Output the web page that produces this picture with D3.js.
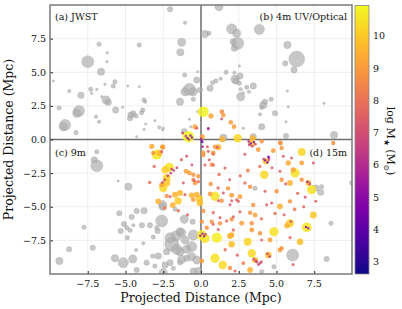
<!DOCTYPE html>
<html>
<head>
<meta charset="utf-8">
<script src="https://cdn.jsdelivr.net/npm/d3@7"></script>
<style>
  body { margin: 0; background: #fff; }
  svg text { font-family: 'DejaVu Serif', serif; fill: #111; }
</style>
</head>
<body>
<svg id="chart" width="402" height="309"></svg>
<script>
// galaxies not detected: [x Mpc, y Mpc, log M*]
const greyGalaxies = [
  [-2.05,9.68,9.4],[-1.06,8.68,8.1],[-1.28,7.23,10.3],[-1.37,6.48,10.05],[-6.75,7.08,8.9],[-4.09,7.03,8.9],
  [-6.2,6.45,6.3],[-7.5,5.78,11.0],[-6.23,5.78,6.3],[-6.62,5.04,10.05],[-9.78,4.35,5.5],[-8.72,3.6,8.1],
  [-7.95,3.29,9.75],[-7.3,3.73,8.9],[-6.9,3.73,6.3],[-7.24,3.43,6.3],[-6.56,3.18,6.3],[-6.29,2.94,10.3],
  [-6.14,2.77,9.75],[-5.7,4.3,8.9],[-5.81,3.98,8.9],[-6.36,4.1,6.3],[-4.85,3.98,5.5],[-4.09,3.93,5.5],
  [-9.4,2.34,8.9],[-8.08,2.12,10.85],[-8.23,1.95,10.3],[-9.0,1.08,10.85],[-9.12,0.95,10.3],[-8.28,0.51,8.9],
  [-6.95,1.7,8.1],[-6.75,1.32,8.1],[-5.65,2.19,9.75],[-5.19,2.39,6.3],[-4.64,1.82,9.75],[-4.48,1.95,9.4],
  [-4.7,1.58,9.4],[-4.3,1.75,8.9],[-3.86,2.19,8.9],[-3.93,1.99,8.9],[-3.77,2.94,8.9],[-3.7,2.81,8.1],
  [-3.05,1.4,6.3],[-2.76,0.9,8.1],[-2.5,0.83,6.3],[-3.77,0.76,6.3],[-3.66,1.15,6.3],[-4.26,0.21,5.5],
  [-1.08,4.8,8.9],[-0.77,3.73,11.0],[-1.06,3.55,10.3],[-0.51,3.55,10.3],[-0.28,4.42,9.75],[-0.51,2.99,8.9],
  [-1.39,2.81,10.05],[-1.1,0.58,9.75],[-0.68,0.95,6.3],[-0.77,1.5,5.5],[-0.22,2.07,5.5],[-0.22,5.04,5.5],
  [-2.54,0.71,5.5],
  [1.19,9.87,10.3],[2.03,8.22,10.7],[2.36,7.9,10.3],[0.26,7.84,10.05],[0.53,7.9,8.9],[2.43,7.15,11.0],
  [2.14,7.27,9.75],[2.21,6.78,9.75],[3.86,8.19,10.7],[5.72,7.03,10.05],[6.34,5.98,11.46],[6.16,5.17,9.75],
  [5.58,5.66,9.4],[2.54,5.46,6.3],[1.66,5.0,8.9],[2.21,4.97,8.1],[2.25,4.48,10.3],[2.58,4.72,9.75],
  [2.32,4.35,9.75],[2.54,4.18,8.9],[0.99,4.35,8.9],[0.77,4.22,8.9],[1.3,4.52,8.1],[0.6,3.81,9.75],
  [-0.07,3.68,9.4],[2.63,3.73,8.1],[3.03,3.88,8.9],[3.46,3.98,9.75],[3.18,3.55,8.1],[2.63,3.18,10.3],
  [2.8,3.48,6.3],[5.72,3.6,6.3],[4.64,2.99,8.9],[4.13,2.57,10.05],[4.24,2.81,9.4],[4.02,2.39,8.9],
  [4.9,1.95,9.4],[5.78,2.44,6.3],[3.91,1.87,8.1],[1.44,2.12,6.3],[2.8,0.83,6.3],[4.02,0.95,9.75],
  [5.63,1.32,5.5],[8.15,2.69,5.5],[1.48,0.13,10.05],[3.46,0.21,9.75],[5.63,0.26,9.4],[8.81,0.33,10.05],
  [-6.9,-0.91,8.9],[-7.07,-1.52,9.75],[-6.9,-1.95,11.0],[-5.48,-3.09,5.5],[-4.81,-3.51,10.05],[-4.26,-5.32,9.4],
  [-3.77,-5.29,9.75],[-5.41,-5.49,9.4],[-5.1,-6.28,9.4],[-4.92,-6.56,8.9],[-5.32,-6.8,9.4],[-4.88,-7.3,8.9],
  [-7.75,-6.53,8.9],[-8.74,-8.16,9.4],[-7.17,-8.04,9.4],[-9.38,-9.03,10.05],[-5.7,-8.83,10.05],[-5.15,-9.16,10.7],
  [-4.52,-8.88,10.3],[-4.3,-8.22,8.1],[-3.82,-7.72,8.1],[-4.26,-9.7,9.4],[-3.6,-9.16,9.4],[-3.2,-8.66,8.9],
  [-2.6,-6.06,11.0],[-2.54,-5.0,10.05],[-2.87,-6.8,9.4],[-3.38,-6.38,9.4],[-1.94,-7.79,11.25],[-1.39,-6.86,10.3],
  [-1.66,-7.17,10.7],[-1.06,-7.47,10.3],[-1.11,-5.93,10.3],[-0.55,-6.11,9.4],[-0.51,-7.1,10.7],[-0.62,-7.97,10.7],
  [-1.39,-8.34,10.3],[-2.27,-8.34,9.75],[-0.62,-8.71,10.3],[-0.28,-8.96,10.3],[-0.95,-8.83,9.75],[-2.38,-9.33,9.75],
  [-1.83,-9.58,8.9],[-1.39,-9.13,9.4],[-4.59,-5.76,9.4],[-4.7,-6.75,8.9],[-3.91,-6.38,9.4],[-4.48,-6.38,8.1],
  [-1.72,-5.19,8.9],[-3.16,-7.25,8.9],[-2.93,-6.56,8.9],[-1.28,-6.93,10.3],[-1.61,-8.16,10.7],[-0.95,-8.16,10.3],
  [-2.83,-8.66,9.75],[-1.28,-8.91,10.3],[-2.05,-9.16,9.75],[-3.05,-9.41,8.9],[-2.5,-9.9,10.3],[-0.18,-9.78,10.05],
  [-0.51,-9.78,9.75],[-2.05,-7.3,10.7],[-2.54,-4.85,10.3],
  [3.58,-3.63,8.9],[7.62,-3.61,9.75],[7.99,-3.51,8.9],[7.93,-3.93,9.75],[8.61,-6.23,8.9],[6.07,-8.59,11.0],
  [8.32,-8.88,9.4],[4.83,-9.46,8.9],[4.02,-9.83,8.9],[9.98,-3.23,8.9]
];

// detected galaxies: [x Mpc, y Mpc, log M*]
const detectedGalaxies = [
  [0.15,2.07,10.8],[0.66,1.75,9.3],[1.37,1.52,7.2],[1.97,1.28,9.0],[2.19,0.95,9.0],[0.48,0.83,5.5],
  [2.43,0.09,10.3],[1.41,0.01,9.6],[3.42,0.09,9.6],[1.37,2.07,8.8],[1.48,1.82,9.0],[-0.4,0.95,9.2],
  [-0.28,0.83,7.3],[-0.84,0.21,10.9],[-0.9,0.1,4.5],[-0.7,0.3,5.2],[-0.8,0.0,6.0],[-0.6,0.15,4.8],
  [-1.0,0.25,6.5],[-1.21,0.48,6.8],[0.05,-0.11,5.0],[0.1,-0.2,4.6],[0.0,0.05,5.5],[0.09,0.21,9.2],
  [0.11,-0.54,5.0],[1.08,-0.58,7.5],[0.48,0.78,7.0],[-2.54,-0.54,9.2],
  [-3.26,-0.51,9.3],[-2.54,-0.58,9.0],[-2.93,-1.13,10.6],[-2.76,-1.0,9.7],[-3.16,-1.0,8.8],[-2.6,-0.91,7.2],
  [-2.1,-2.07,10.5],[-2.38,-2.25,10.0],[-2.27,-2.86,10.2],[-2.5,-3.61,10.3],[-2.27,-3.23,9.9],
  [-2.4,-3.0,6.8],[-2.2,-2.7,6.6],[-2.0,-2.5,6.9],[-1.8,-2.3,6.5],[-1.6,-2.1,7.0],[-2.55,-3.2,7.2],[-1.95,-2.2,6.3],
  [-2.6,-3.36,9.2],[-0.99,-2.36,9.1],[-0.77,-2.49,9.1],[-0.51,-2.62,8.8],[-0.18,-2.74,8.9],[-0.51,-2.99,8.5],
  [-0.45,-3.05,7.5],[-0.4,-3.23,9.0],[-0.18,-3.14,7.9],[-1.17,-3.23,7.3],[0.64,-3.31,8.8],[0.15,-1.0,9.1],
  [0.48,-0.88,7.5],[0.81,-1.0,9.1],[1.15,-0.58,9.6],[-0.95,-1.25,7.2],[0.55,-1.5,7.5],[0.71,-1.87,8.8],
  [1.59,-2.12,7.5],[-1.72,-4.1,9.6],[-1.39,-3.98,9.6],[-1.06,-4.1,7.5],[-0.62,-4.15,9.5],[-0.28,-4.1,9.5],
  [-0.11,-4.4,10.0],[-0.51,-4.48,9.0],[-0.07,-4.72,9.8],[-2.83,-4.6,9.5],[-2.05,-4.25,7.2],[0.93,-4.22,10.5],
  [0.6,-4.05,9.0],[1.15,-4.55,7.5],[1.48,-3.98,7.2],[1.37,-4.55,8.8],[2.03,-4.15,9.1],[2.03,-4.55,7.5],
  [2.36,-4.48,7.6],[2.47,-4.6,7.4],[1.92,-4.85,7.3],[-1.87,-4.87,9.5],[-1.52,-4.57,10.0],[-2.27,-4.2,8.8],
  [3.36,-0.26,10.0],[3.3,-0.3,5.0],[3.5,-0.2,4.5],[3.2,-0.4,6.8],[3.4,-0.5,6.5],[3.6,-0.35,7.0],[3.15,-0.15,5.5],
  [3.79,-0.76,9.0],[4.02,-0.13,8.8],[4.3,-1.62,9.8],[4.25,-1.55,5.0],[4.4,-1.7,4.8],[4.15,-1.45,6.5],[4.5,-1.5,6.8],
  [4.19,-2.62,10.3],[4.79,-0.83,9.1],[5.28,-0.26,8.8],[5.34,-0.63,8.8],[5.45,-1.25,7.5],[5.78,-1.75,9.4],
  [6.0,-1.38,7.5],[6.67,-0.93,10.2],[6.67,-1.75,9.1],[6.23,-2.49,10.5],[6.11,-2.25,9.2],[7.44,-1.75,7.2],
  [5.23,-2.36,7.5],[5.34,-2.99,8.8],[5.89,-3.23,9.5],[6.67,-2.99,8.8],[7.11,-3.23,9.5],[7.05,-3.15,5.0],
  [7.2,-3.3,6.5],[7.33,-3.73,10.5],[4.24,-3.85,7.5],[5.01,-3.85,8.8],[5.89,-4.6,8.8],[5.23,-4.97,9.5],
  [4.35,-4.85,7.5],[4.68,-4.72,7.6],[8.76,-0.26,8.8],[4.46,-1.28,5.0],[4.5,-1.35,4.5],[5.23,-0.24,8.8],
  [0.93,-0.54,9.0],[0.81,-1.08,7.9],[0.15,-1.15,8.8],[0.42,-0.54,7.5],
  [5.89,-6.23,10.2],[5.7,-6.4,9.5],[5.95,-6.1,6.8],[7.0,-6.53,10.6],[6.95,-6.5,5.0],[7.1,-6.6,5.5],
  [7.44,-5.61,9.9],[6.56,-7.6,9.8],[4.83,-6.86,10.5],[5.23,-8.22,9.1],[5.34,-8.09,8.8],[4.46,-8.59,9.8],
  [4.4,-8.5,6.8],[4.55,-8.7,6.5],[3.91,-9.2,7.0],[3.8,-9.3,6.6],[4.0,-9.1,6.8],[3.7,-9.1,7.3],
  [3.36,-8.46,10.3],[3.58,-8.96,9.6],[3.5,-8.9,7.2],[3.65,-9.05,6.8],[3.09,-7.6,10.2],[1.26,-6.23,8.8],
  [2.03,-7.1,9.4],[2.14,-6.73,7.9],[2.7,-6.23,9.1],[3.36,-6.23,8.8],[3.36,-6.73,9.1],[3.91,-6.97,8.8],
  [4.02,-7.47,7.5],[4.57,-7.47,9.1],[0.93,-8.83,10.5],[1.44,-9.33,10.3],[0.26,-7.35,10.5],[0.05,-7.1,10.6],
  [0.1,-7.0,5.0],[0.2,-7.2,4.6],[-0.05,-7.15,5.5],[0.3,-7.05,6.5],[1.04,-7.3,10.7],[1.92,-7.17,9.6],
  [2.03,-7.79,9.8],[0.05,-9.03,9.1],[0.81,-6.3,7.5],[0.38,-6.56,8.8],[1.15,-6.7,7.5],[0.15,-5.32,8.8],
  [0.81,-5.44,7.9],[1.26,-5.81,7.5],[1.7,-6.06,7.9],[2.03,-5.93,8.8],[3.25,-5.44,8.8],[3.58,-5.61,9.1],
  [3.46,-4.87,8.8],[2.58,-4.25,9.1],[2.58,-5.37,7.5],[2.14,-5.74,7.5],[0.71,-6.11,8.8],[0.05,-6.11,8.8],
  [0.26,-1.9,7.5],[0.81,-1.9,7.9],[2.25,-9.78,7.5],[1.92,-9.55,8.8],[3.25,-9.7,9.5],[2.91,-3.23,7.9],
  [3.25,-3.51,8.8],[1.79,-3.63,8.8],[1.13,-3.61,7.9],
  [2.9,-1.1,7.6],[3.9,-2.0,7.9],[4.7,-2.1,7.5],[5.6,-3.3,7.6],[6.4,-4.0,7.8],[6.9,-4.3,7.2],[3.1,-2.3,8.5],
  [2.6,-2.7,7.9],[1.9,-3.0,7.3],[1.2,-2.6,8.0],[4.9,-5.5,7.9],[5.5,-5.6,7.5],[6.2,-5.2,8.2],[6.8,-5.0,7.6],
  [7.6,-4.6,7.3],[4.0,-5.9,8.0],[1.6,-8.2,7.9],[2.4,-8.6,7.6],[2.8,-9.2,8.3],[5.9,-7.3,7.8],[6.1,-9.3,7.5],
  [-1.3,-1.5,7.6],[-0.6,-1.9,7.2],[-1.5,-5.3,7.9],[-0.9,-5.6,7.6],[-2.4,-5.1,8.2],[-3.1,-2.0,7.8],[-3.4,-3.2,8.0]
];

const xTicks = [-7.5, -5.0, -2.5, 0.0, 2.5, 5.0, 7.5];
const yTicks = [-7.5, -5.0, -2.5, 0.0, 2.5, 5.0, 7.5];
const cbarTicks = [3, 4, 5, 6, 7, 8, 9, 10];
const cbarDomain = [2.62, 10.94];
const panelLabels = ['(a) JWST', '(b) 4m UV/Optical', '(c) 9m', '(d) 15m'];

const svg = d3.select('#chart');
const pL = 50, pR = 352, pT = 5, pB = 274;

const x = d3.scaleLinear().domain([-10, 10]).range([pL, pR]);
const y = d3.scaleLinear().domain([-10, 10]).range([pB, pT]);
const color = d3.scaleSequential(d3.interpolatePlasma).domain(cbarDomain);
// marker size grows with stellar mass
const rMass = d3.scalePow().exponent(0.3).domain([0, 1e11]).range([0, 5.0]);
const radius = m => 1.1 + rMass(Math.pow(10, m));
const fmt = v => d3.format('.1f')(v).replace('-', '\u2212');

// grid
const grid = svg.append('g');
grid.selectAll('.gx').data(xTicks).enter().append('line')
  .attr('x1', d => x(d)).attr('x2', d => x(d)).attr('y1', pT).attr('y2', pB)
  .attr('stroke', '#ebebeb').attr('stroke-width', 0.8);
grid.selectAll('.gy').data(yTicks).enter().append('line')
  .attr('y1', d => y(d)).attr('y2', d => y(d)).attr('x1', pL).attr('x2', pR)
  .attr('stroke', '#ebebeb').attr('stroke-width', 0.8);

// quadrant dividers
svg.append('line').attr('x1', x(0)).attr('x2', x(0)).attr('y1', pT).attr('y2', pB)
  .attr('stroke', '#6e6e6e').attr('stroke-width', 1.5);
svg.append('line').attr('x1', pL).attr('x2', pR).attr('y1', y(0)).attr('y2', y(0))
  .attr('stroke', '#6e6e6e').attr('stroke-width', 1.5);

// points
svg.append('clipPath').attr('id', 'plotclip').append('rect')
  .attr('x', pL).attr('y', pT).attr('width', pR - pL).attr('height', pB - pT);

const pts = svg.append('g').attr('clip-path', 'url(#plotclip)');
pts.selectAll('.grey').data(greyGalaxies).enter().append('circle')
  .attr('cx', d => x(d[0])).attr('cy', d => y(d[1])).attr('r', d => radius(d[2]))
  .attr('fill', '#adadad').attr('fill-opacity', 0.68)
  .attr('stroke', '#9a9a9a').attr('stroke-opacity', 0.5).attr('stroke-width', 0.5);

const det = detectedGalaxies.slice().sort((a, b) => b[2] - a[2]);
pts.selectAll('.det').data(det).enter().append('circle')
  .attr('cx', d => x(d[0])).attr('cy', d => y(d[1])).attr('r', d => radius(d[2]))
  .attr('fill', d => color(d[2])).attr('fill-opacity', 0.85);

// frame + ticks
const axB = svg.append('g').attr('transform', `translate(0,${pB})`)
  .call(d3.axisTop(x).tickValues(xTicks).tickSize(3).tickFormat(''));
const axL = svg.append('g').attr('transform', `translate(${pL},0)`)
  .call(d3.axisRight(y).tickValues(yTicks).tickSize(3).tickFormat(''));
[axB, axL].forEach(a => { a.select('.domain').remove(); a.selectAll('line').attr('stroke', '#222'); });

svg.selectAll('.xl').data(xTicks).enter().append('text')
  .attr('x', d => x(d)).attr('y', pB + 13).attr('text-anchor', 'middle')
  .attr('font-size', 9.5).text(fmt);
svg.selectAll('.yl').data(yTicks).enter().append('text')
  .attr('x', pL - 4).attr('y', d => y(d) + 3.5).attr('text-anchor', 'end')
  .attr('font-size', 9.5).text(fmt);

svg.append('rect').attr('x', pL).attr('y', pT).attr('width', pR - pL).attr('height', pB - pT)
  .attr('fill', 'none').attr('stroke', '#7a7a7a').attr('stroke-width', 1.5);

// panel labels
const pl = svg.append('g').attr('font-size', 9.5);
pl.append('text').attr('x', pL + 5).attr('y', 20).text(panelLabels[0]);
pl.append('text').attr('x', pR - 5).attr('y', 20).attr('text-anchor', 'end').text(panelLabels[1]);
pl.append('text').attr('x', pL + 5).attr('y', 156).text(panelLabels[2]);
pl.append('text').attr('x', pR - 5).attr('y', 156).attr('text-anchor', 'end').text(panelLabels[3]);

// axis titles
svg.append('text').attr('x', x(0)).attr('y', 302).attr('text-anchor', 'middle')
  .attr('font-size', 12.5).text('Projected Distance (Mpc)');
svg.append('text').attr('transform', `translate(13,${y(0)}) rotate(-90)`).attr('text-anchor', 'middle')
  .attr('font-size', 12.5).text('Projected Distance (Mpc)');

// colorbar
const cb = { x: 355, w: 14, t: 5.5, b: 274 };
const cy = d3.scaleLinear().domain(cbarDomain).range([cb.b, cb.t]);
const grad = svg.append('defs').append('linearGradient').attr('id', 'plasma')
  .attr('x1', 0).attr('y1', 1).attr('x2', 0).attr('y2', 0);
d3.range(0, 1.001, 0.05).forEach(t => {
  grad.append('stop').attr('offset', t).attr('stop-color', d3.interpolatePlasma(t));
});
svg.append('rect').attr('x', cb.x).attr('y', cb.t).attr('width', cb.w).attr('height', cb.b - cb.t)
  .attr('fill', 'url(#plasma)').attr('stroke', '#888').attr('stroke-width', 0.8);
svg.selectAll('.ct').data(cbarTicks).enter().append('text')
  .attr('x', cb.x + cb.w + 4).attr('y', d => cy(d) + 3.5).attr('font-size', 9.5).text(d => d);

const cl = svg.append('text').attr('transform', 'translate(387,141) rotate(90)')
  .attr('text-anchor', 'middle').attr('font-size', 11);
cl.append('tspan').text('log M');
cl.append('tspan').attr('font-size', 7.5).attr('dy', 3).text('\u2605');
cl.append('tspan').attr('dy', -3).text(' (M');
cl.append('tspan').attr('font-size', 7.5).attr('dy', 3).text('\u2299');
cl.append('tspan').attr('dy', -3).text(')');
</script>
</body>
</html>
